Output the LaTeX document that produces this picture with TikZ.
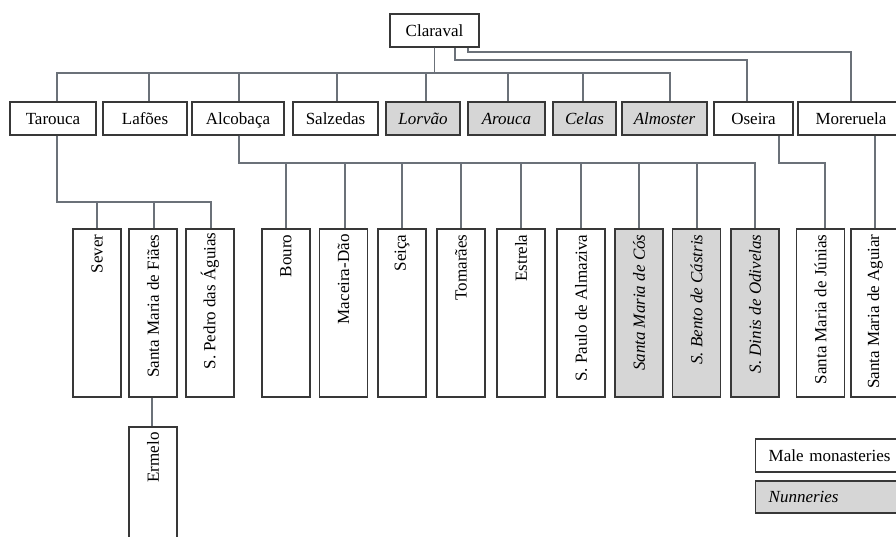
\documentclass[tikz,border=0pt]{standalone}
\usepackage{fontspec}
\setmainfont{Liberation Serif}
\definecolor{boxc}{HTML}{383838}
\definecolor{connc}{HTML}{6B7179}
\definecolor{nunc}{HTML}{D6D6D6}
\begin{document}
\begin{tikzpicture}[x=1pt,y=-1pt,
  mbox/.style={draw=boxc, line width=1.4pt, fill=white, inner sep=0pt, font=\fontsize{17}{20}\selectfont},
  nbox/.style={mbox, fill=nunc, font=\fontsize{17}{20}\selectfont\itshape},
  hbox/.style={minimum height=33pt, text height=11.5pt, text depth=0.5pt},
  vbox/.style={minimum width=48pt, minimum height=168pt},
  vtext/.style={rotate=90, anchor=east, inner sep=0pt, font=\fontsize{17}{20}\selectfont},
  vntext/.style={vtext, font=\fontsize{17}{20}\selectfont\itshape},
  conn/.style={draw=connc, line width=1.1pt}]
\useasboundingbox (0,0) rectangle (896,536);
\clip (0,0) rectangle (896,536);
\coordinate (bus) at (0,73);
\coordinate (tbus) at (0,202);
\coordinate (abus) at (0,163);
\coordinate (obus) at (0,60);
\coordinate (mbus) at (0,52);
% top
\node[mbox,hbox,minimum width=89pt] (clar) at (434.5,30.5) {Claraval};
% second row
\node[mbox,hbox,minimum width=86pt] (tar) at (53,118.5) {Tarouca};
\node[mbox,hbox,minimum width=84pt] (laf) at (145,118.5) {Lafões};
\node[mbox,hbox,minimum width=92pt] (alc) at (238,118.5) {Alcobaça};
\node[mbox,hbox,minimum width=85pt] (sal) at (335.5,118.5) {Salzedas};
\node[nbox,hbox,minimum width=74pt] (lor) at (423,118.5) {Lorvão};
\node[nbox,hbox,minimum width=77pt] (aro) at (506.5,118.5) {Arouca};
\node[nbox,hbox,minimum width=63pt] (cel) at (584.5,118.5) {Celas};
\node[nbox,hbox,minimum width=85pt] (alm) at (664.5,118.5) {Almoster};
\node[mbox,hbox,minimum width=79pt] (ose) at (753.5,118.5) {Oseira};
\node[mbox,hbox,minimum width=106pt] (mor) at (851,118.5) {Moreruela};
% third row
\node[mbox,vbox] (sev) at (97,313) {};
\node[mbox,vbox] (fia) at (153,313) {};
\node[mbox,vbox] (ped) at (210,313) {};
\node[mbox,vbox] (bou) at (286,313) {};
\node[mbox,vbox] (mac) at (343.5,313) {};
\node[mbox,vbox] (sei) at (402,313) {};
\node[mbox,vbox] (tom) at (461,313) {};
\node[mbox,vbox] (est) at (521,313) {};
\node[mbox,vbox] (pau) at (581,313) {};
\node[nbox,vbox] (cos) at (639,313) {};
\node[nbox,vbox] (ben) at (696.5,313) {};
\node[nbox,vbox] (din) at (755,313) {};
\node[mbox,vbox] (jun) at (820.5,313) {};
\node[mbox,vbox] (agu) at (875,313) {};
\node[mbox,vbox] (erm) at (153,511) {};
% vertical labels
\node[vtext] (tsev) at ([yshift=-6pt]sev.north) {Sever};
\node[vtext] (tfia) at ([yshift=-6pt]fia.north) {Santa Maria de Fiães};
\node[vtext] (tped) at ([yshift=-4pt]ped.north) {S. Pedro das Águias};
\node[vtext] (tbou) at ([yshift=-6pt]bou.north) {Bouro};
\node[vtext] (tmac) at ([yshift=-6pt]mac.north) {Maceira-Dão};
\node[vtext] (tsei) at ([yshift=-6pt]sei.north) {Seiça};
\node[vtext] (ttom) at ([yshift=-6pt]tom.north) {Tomarães};
\node[vtext] (test) at ([yshift=-6pt]est.north) {Estrela};
\node[vtext] (tpau) at ([yshift=-6pt]pau.north) {S. Paulo de Almaziva};
\node[vntext] (tcos) at ([yshift=-6pt]cos.north) {Santa Maria de Cós};
\node[vntext] (tben) at ([yshift=-6pt]ben.north) {S. Bento de Cástris};
\node[vntext] (tdin) at ([yshift=-6pt]din.north) {S. Dinis de Odivelas};
\node[vtext] (tjun) at ([yshift=-6pt]jun.north) {Santa Maria de Júnias};
\node[vtext] (tagu) at ([yshift=-6pt]agu.north) {Santa Maria de Aguiar};
\node[vtext] (term) at ([yshift=-6pt]erm.north) {Ermelo};
% legend
\node[mbox,minimum height=33pt,minimum width=160pt,text width=134pt,align=left,inner xsep=13pt,anchor=west] (male) at (755,455.5) {Male monasteries};
\node[nbox,minimum height=32pt,minimum width=160pt,text width=134pt,align=left,inner xsep=13pt,anchor=west] (nun) at (755,497) {Nunneries};
% connectors from Claraval
\draw[conn] (clar.south) -- (clar.south |- bus) -| ([xshift=4pt]tar.north);
\draw[conn] (clar.south) -- (clar.south |- bus) -| ([xshift=4pt]laf.north);
\draw[conn] (clar.south) -- (clar.south |- bus) -| ([xshift=1pt]alc.north);
\draw[conn] (clar.south) -- (clar.south |- bus) -| ([xshift=1.5pt]sal.north);
\draw[conn] (clar.south) -- (clar.south |- bus) -| ([xshift=3pt]lor.north);
\draw[conn] (clar.south) -- (clar.south |- bus) -| ([xshift=1.5pt]aro.north);
\draw[conn] (clar.south) -- (clar.south |- bus) -| ([xshift=-1.5pt]cel.north);
\draw[conn] (clar.south) -- (clar.south |- bus) -| ([xshift=5.5pt]alm.north);
\draw[conn] ([xshift=20.5pt]clar.south) -- ([xshift=20.5pt]clar.south |- obus) -| ([xshift=-6.5pt]ose.north);
\draw[conn] ([xshift=33.5pt]clar.south) -- ([xshift=33.5pt]clar.south |- mbus) -| (mor.north);
% Tarouca children
\draw[conn] ([xshift=4pt]tar.south) -- ([xshift=4pt]tar.south |- tbus) -| (sev.north);
\draw[conn] ([xshift=4pt]tar.south) -- ([xshift=4pt]tar.south |- tbus) -| ([xshift=1pt]fia.north);
\draw[conn] ([xshift=4pt]tar.south) -- ([xshift=4pt]tar.south |- tbus) -| ([xshift=1pt]ped.north);
\draw[conn] ([xshift=-1pt]fia.south) -- ([xshift=-1pt]erm.north);
% Alcobaca children
\foreach \c/\d in {bou/0,mac/1.5,sei/0,tom/0,est/0,pau/0,cos/0,ben/0.5,din/0}
  \draw[conn] ([xshift=1pt]alc.south) -- ([xshift=1pt]alc.south |- abus) -| ([xshift=\d pt]\c.north);
% Oseira, Moreruela
\draw[conn] ([xshift=25.5pt]ose.south) -- ([xshift=25.5pt]ose.south |- abus) -| ([xshift=4.5pt]jun.north);
\draw[conn] ([xshift=24pt]mor.south) -- (agu.north);
\end{tikzpicture}
\end{document}
